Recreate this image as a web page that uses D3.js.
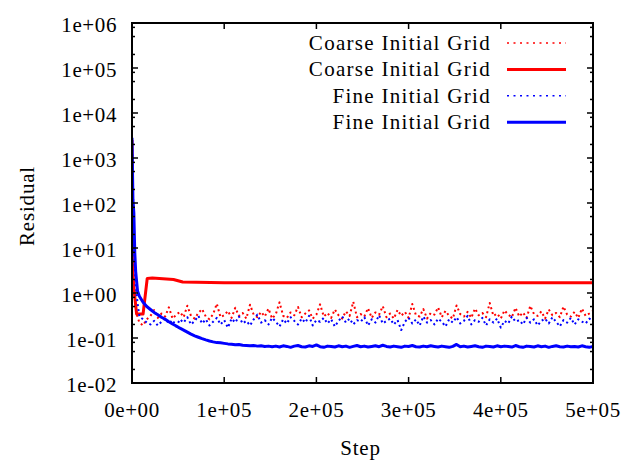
<!DOCTYPE html>
<html>
<head>
<meta charset="utf-8">
<script src="https://cdn.jsdelivr.net/npm/d3@7"></script>
<style>
  body { margin: 0; background: #fff; }
  text { font-family: "Liberation Serif", "DejaVu Serif", serif; fill: #000; }
</style>
</head>
<body>
<svg id="chart" width="622" height="462"></svg>
<script>
// step sampling of the noisy part (every 4000 steps from 8000 to 500000)
const noisySteps = d3.range(8000, 500001, 4000)

// initial transient, [step, residual]
const coarseDotHead = [[0, 2500], [500, 4.2], [2500, 1.2], [5000, 0.34]]
const fineDotHead = [[0, 2600], [1200, 90], [2500, 6], [4000, 1.5], [6000, 0.6]]
const fineSolidHead = [[0, 2800], [1000, 120], [2000, 60], [3000, 8], [4000, 3], [6000, 1.1]]

const coarseDotValues = [
  0.22,0.19,0.26,0.31,0.42,0.28,0.35,0.30,0.48,0.27,0.33,0.38,0.29,0.52,0.31,0.27,0.36,0.44,0.30,0.26,
  0.34,0.58,0.29,0.32,0.40,0.28,0.47,0.31,0.36,0.27,0.55,0.33,0.29,0.38,0.30,0.45,0.27,0.34,0.62,0.31,
  0.28,0.37,0.32,0.49,0.29,0.35,0.41,0.27,0.33,0.56,0.30,0.36,0.28,0.43,0.32,0.27,0.39,0.31,0.64,0.29,
  0.34,0.30,0.46,0.28,0.37,0.33,0.51,0.29,0.35,0.27,0.42,0.31,0.38,0.28,0.57,0.32,0.30,0.44,0.27,0.36,
  0.33,0.48,0.29,0.40,0.31,0.27,0.53,0.34,0.30,0.38,0.28,0.45,0.32,0.36,0.29,0.60,0.31,0.35,0.27,0.41,
  0.33,0.29,0.47,0.30,0.37,0.28,0.52,0.34,0.31,0.39,0.27,0.43,0.32,0.36,0.29,0.50,0.33,0.30,0.38,0.28,
  0.45,0.31,0.35,0.40
]

const fineDotValues = [
  0.30,0.26,0.22,0.20,0.24,0.19,0.23,0.27,0.21,0.25,0.18,0.26,0.22,0.29,0.20,0.24,0.31,0.21,0.26,0.19,
  0.23,0.28,0.20,0.25,0.17,0.27,0.22,0.30,0.21,0.24,0.19,0.26,0.33,0.22,0.25,0.20,0.28,0.23,0.18,0.26,
  0.21,0.29,0.24,0.20,0.27,0.22,0.31,0.19,0.25,0.23,0.28,0.21,0.26,0.18,0.24,0.30,0.22,0.27,0.20,0.25,
  0.23,0.29,0.19,0.26,0.22,0.32,0.21,0.24,0.27,0.20,0.25,0.15,0.23,0.28,0.21,0.26,0.19,0.30,0.22,0.25,
  0.20,0.27,0.23,0.18,0.26,0.22,0.29,0.21,0.24,0.31,0.20,0.25,0.23,0.28,0.19,0.26,0.22,0.27,0.17,0.24,
  0.21,0.30,0.23,0.25,0.20,0.28,0.22,0.26,0.19,0.24,0.27,0.21,0.29,0.23,0.18,0.25,0.22,0.28,0.20,0.26,
  0.23,0.21,0.27,0.24
]

const fineSolidValues = [
  0.85,0.62,0.50,0.43,0.37,0.33,0.29,0.26,0.23,0.205,0.185,0.165,0.15,0.135,0.122,0.112,0.104,0.097,0.091,0.086,
  0.082,0.079,0.078,0.076,0.074,0.073,0.071,0.072,0.069,0.068,0.067,0.068,0.066,0.067,0.065,0.066,
  0.064,0.066,0.063,0.067,0.065,0.062,0.066,0.068,0.064,0.063,0.067,0.065,0.070,0.064,0.062,0.066,0.065,0.063,0.067,0.064,
  0.066,0.062,0.065,0.068,0.064,0.066,0.063,0.065,0.067,0.064,0.069,0.065,0.063,0.066,0.064,0.062,0.066,0.065,0.068,0.064,
  0.063,0.066,0.064,0.067,0.065,0.063,0.066,0.064,0.062,0.065,0.072,0.064,0.066,0.063,0.065,0.067,0.064,0.062,0.066,0.065,
  0.063,0.067,0.064,0.066,0.065,0.063,0.068,0.064,0.062,0.066,0.065,0.063,0.067,0.064,0.066,0.062,0.065,0.067,0.064,0.063,
  0.066,0.064,0.065,0.063,0.067,0.064,0.062,0.065
]

// coarse solid is smooth: a few readings are enough
const coarseSolid = [
  [0, 2500], [500, 4.2], [2000, 1.3], [5000, 0.34], [12000, 0.34], [16500, 2.1],
  [22000, 2.15], [45000, 2.0], [55000, 1.75], [100000, 1.7], [500000, 1.68]
]

const xTicks = [0, 1e5, 2e5, 3e5, 4e5, 5e5]
const yTicks = [1e-2, 1e-1, 1e0, 1e1, 1e2, 1e3, 1e4, 1e5, 1e6]
const minorMult = [2, 5, 8]

const legendNames = ['Coarse Initial Grid', 'Coarse Initial Grid', 'Fine Initial Grid', 'Fine Initial Grid']

const withSteps = (head, vals) => head.concat(vals.map((v, i) => [noisySteps[i], v]))

const series = [
  { data: withSteps(coarseDotHead, coarseDotValues), color: '#ff0000', dotted: true },
  { data: coarseSolid, color: '#ff0000', dotted: false },
  { data: withSteps(fineDotHead, fineDotValues), color: '#0000ff', dotted: true },
  { data: withSteps(fineSolidHead, fineSolidValues), color: '#0000ff', dotted: false },
]

const margin = { left: 132, right: 29, top: 23, bottom: 79 }
const W = 622, H = 462
const svg = d3.select('#chart')

const x = d3.scaleLinear().domain([0, 5e5]).range([margin.left, W - margin.right])
const y = d3.scaleLog().domain([1e-2, 1e6]).range([H - margin.bottom, margin.top])

const fmtE = d => {
  if (d === 0) return '0e+00'
  const e = Math.floor(Math.log10(d) + 1e-9)
  const m = Math.round(d / Math.pow(10, e))
  return m + 'e' + (e < 0 ? '-' : '+') + String(Math.abs(e)).padStart(2, '0')
}

const plot = svg.append('g')
plot.append('clipPath').attr('id', 'clip')
  .append('rect')
  .attr('x', margin.left).attr('y', margin.top)
  .attr('width', W - margin.left - margin.right)
  .attr('height', H - margin.top - margin.bottom)

const line = d3.line().x(d => x(d[0])).y(d => y(d[1]))

const lines = plot.append('g').attr('clip-path', 'url(#clip)')
series.forEach(s => {
  lines.append('path')
    .attr('d', line(s.data))
    .attr('fill', 'none')
    .attr('stroke', s.color)
    .attr('stroke-width', s.dotted ? 2 : 3)
    .attr('stroke-dasharray', s.dotted ? '2,3' : null)
    .attr('stroke-linejoin', 'round')
})

// ticks, inward, mirrored on all sides
const ticks = svg.append('g').attr('stroke', '#000').attr('stroke-width', 1.5)
const x0 = x.range()[0], x1 = x.range()[1]
const yb = y.range()[0], yt = y.range()[1]

xTicks.forEach(t => {
  ticks.append('line').attr('x1', x(t)).attr('x2', x(t)).attr('y1', yb).attr('y2', yb - 6)
  ticks.append('line').attr('x1', x(t)).attr('x2', x(t)).attr('y1', yt).attr('y2', yt + 6)
})
yTicks.forEach(t => {
  ticks.append('line').attr('x1', x0).attr('x2', x0 + 6).attr('y1', y(t)).attr('y2', y(t))
  ticks.append('line').attr('x1', x1).attr('x2', x1 - 6).attr('y1', y(t)).attr('y2', y(t))
})
yTicks.slice(0, -1).forEach(t => {
  minorMult.forEach(m => {
    const v = t * m
    ticks.append('line').attr('x1', x0).attr('x2', x0 + 3).attr('y1', y(v)).attr('y2', y(v))
    ticks.append('line').attr('x1', x1).attr('x2', x1 - 3).attr('y1', y(v)).attr('y2', y(v))
  })
})

// frame
svg.append('rect')
  .attr('x', x0).attr('y', yt)
  .attr('width', x1 - x0).attr('height', yb - yt)
  .attr('fill', 'none').attr('stroke', '#000').attr('stroke-width', 2)

// tick labels
svg.append('g').selectAll('text')
  .data(xTicks).enter().append('text')
  .attr('x', d => x(d)).attr('y', yb + 34)
  .attr('text-anchor', 'middle')
  .style('font-size', '21px').style('letter-spacing', '0.6px')
  .text(fmtE)

svg.append('g').selectAll('text')
  .data(yTicks).enter().append('text')
  .attr('x', x0 - 15).attr('y', d => y(d) + 9)
  .attr('text-anchor', 'end')
  .style('font-size', '21px').style('letter-spacing', '0.6px')
  .text(fmtE)

// axis titles
svg.append('text')
  .attr('x', (x0 + x1) / 2 - 2).attr('y', yb + 72)
  .attr('text-anchor', 'middle')
  .style('font-size', '21px').style('letter-spacing', '0.8px')
  .text('Step')

svg.append('text')
  .attr('transform', `translate(34, 206) rotate(-90)`)
  .attr('text-anchor', 'middle')
  .style('font-size', '21px').style('letter-spacing', '0.8px')
  .text('Residual')

// legend
const legend = svg.append('g')
series.forEach((s, i) => {
  const ly = 43 + i * 26.4
  legend.append('text')
    .attr('x', 491).attr('y', ly + 7)
    .attr('text-anchor', 'end')
    .style('font-size', '21px').style('letter-spacing', '1.3px')
    .text(legendNames[i])
  legend.append('line')
    .attr('x1', 507).attr('x2', 566).attr('y1', ly).attr('y2', ly)
    .attr('stroke', s.color)
    .attr('stroke-width', s.dotted ? 1.5 : 3)
    .attr('stroke-dasharray', s.dotted ? '2,4.5' : null)
})
</script>
</body>
</html>
